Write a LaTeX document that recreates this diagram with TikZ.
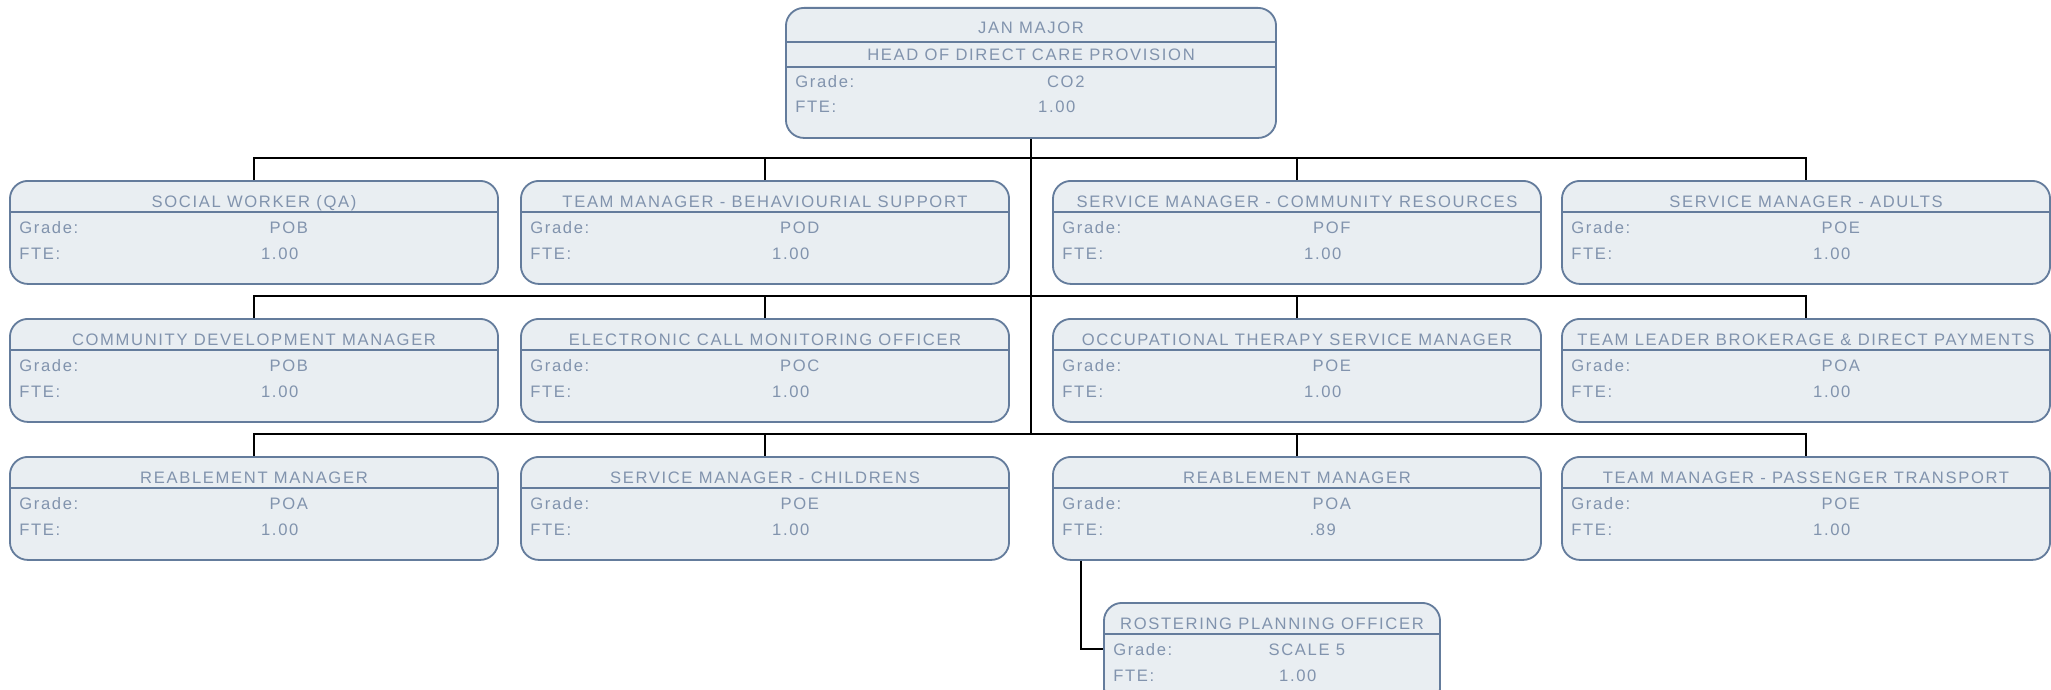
\documentclass[tikz,border=0pt]{standalone}
\usepackage{fontspec}
\setmainfont{Liberation Sans}[LetterSpace=10]
\usepackage{tikz}
\usetikzlibrary{positioning, calc}

\definecolor{boxfill}{HTML}{E9EEF2}
\definecolor{boxline}{HTML}{647C9C}
\definecolor{boxtext}{HTML}{8193AD}

\newcommand{\post}[6][12.2cm]{%
  \node[postbox, anchor=north, minimum width=#1] (#2) at (#3) {};
  \node[posttext, anchor=base] at ($(#2.north)+(0,27)$) {#4};
  \draw[rowline] ($(#2.north west)+(0,32)$) -- ($(#2.north east)+(0,32)$);
  \node[posttext, anchor=base west] (#2g) at ($(#2.north west)+(10,53)$) {Grade:};
  \node[posttext, anchor=base west] (#2f) at ($(#2.north west)+(10,79)$) {FTE:};
  \path (#2g.base east) -- (#2g.base east -| #2.east) node[posttext, anchor=base, midway] {#5};
  \path (#2f.base east) -- (#2f.base east -| #2.east) node[posttext, anchor=base, midway] {#6};
}

\begin{document}
\begin{tikzpicture}[x=0.025cm, y=-0.025cm,
    postbox/.style={draw=boxline, fill=boxfill, line width=1.3pt, rounded corners=0.45cm, minimum height=2.575cm, inner sep=0},
    rowline/.style={draw=boxline, line width=1.3pt},
    posttext/.style={text=boxtext, inner sep=0, font=\fontsize{11.8}{13}\selectfont},
    link/.style={line width=1.3pt}]
                \useasboundingbox (0,0) rectangle (2051,690);
                \clip (0,0) rectangle (2051,690);

                \node[postbox, anchor=north, minimum width=12.25cm, minimum height=3.25cm] (head) at (1031,7) {};
                \node[posttext, anchor=base] at ($(head.north)+(0,27)$) {JAN MAJOR};
                \draw[rowline] ($(head.north west)+(0,35)$) -- ($(head.north east)+(0,35)$);
                \node[posttext, anchor=base] at ($(head.north)+(0,53.5)$) {HEAD OF DIRECT CARE PROVISION};
                \draw[rowline] ($(head.north west)+(0,60)$) -- ($(head.north east)+(0,60)$);
                \node[posttext, anchor=base west] (headg) at ($(head.north west)+(10,80.5)$) {Grade:};
                \node[posttext, anchor=base west] (headf) at ($(head.north west)+(10,105.5)$) {FTE:};
                \path (headg.base east) -- (headg.base east -| head.east) node[posttext, anchor=base, midway] {CO2};
                \path (headf.base east) -- (headf.base east -| head.east) node[posttext, anchor=base, midway] {1.00};

                \post{a1}{254,180}{SOCIAL WORKER (QA)}{POB}{1.00}
                \post{a2}{765,180}{TEAM MANAGER - BEHAVIOURIAL SUPPORT}{POD}{1.00}
                \post{a3}{1297,180}{SERVICE MANAGER - COMMUNITY RESOURCES}{POF}{1.00}
                \post{a4}{1806,180}{SERVICE MANAGER - ADULTS}{POE}{1.00}

                \post{b1}{254,318}{COMMUNITY DEVELOPMENT MANAGER}{POB}{1.00}
                \post{b2}{765,318}{ELECTRONIC CALL MONITORING OFFICER}{POC}{1.00}
                \post{b3}{1297,318}{OCCUPATIONAL THERAPY SERVICE MANAGER}{POE}{1.00}
                \post{b4}{1806,318}{TEAM LEADER BROKERAGE \& DIRECT PAYMENTS}{POA}{1.00}

                \post{c1}{254,456}{REABLEMENT MANAGER}{POA}{1.00}
                \post{c2}{765,456}{SERVICE MANAGER - CHILDRENS}{POE}{1.00}
                \post{c3}{1297,456}{REABLEMENT MANAGER}{POA}{.89}
                \post{c4}{1806,456}{TEAM MANAGER - PASSENGER TRANSPORT}{POE}{1.00}

                \post[8.4cm]{d1}{1272,602}{ROSTERING PLANNING OFFICER}{SCALE 5}{1.00}

                \coordinate (bus1) at (1031,158);
                \coordinate (bus2) at (1031,296);
                \coordinate (bus3) at (1031,434);
                \coordinate (drop) at ($(c3.south west)+(29,0)$);

                \draw[link] (head.south) -- (bus3);
                \foreach \r/\b in {a/bus1, b/bus2, c/bus3} {
                    \draw[link] (\r1.north) |- (\b) -| (\r4.north);
                    \draw[link] (\r2.north) -- (\r2.north |- \b);
                    \draw[link] (\r3.north) -- (\r3.north |- \b);
                }
                \draw[link] (drop) |- (d1.west |- d1g);
\end{tikzpicture}
\end{document}
